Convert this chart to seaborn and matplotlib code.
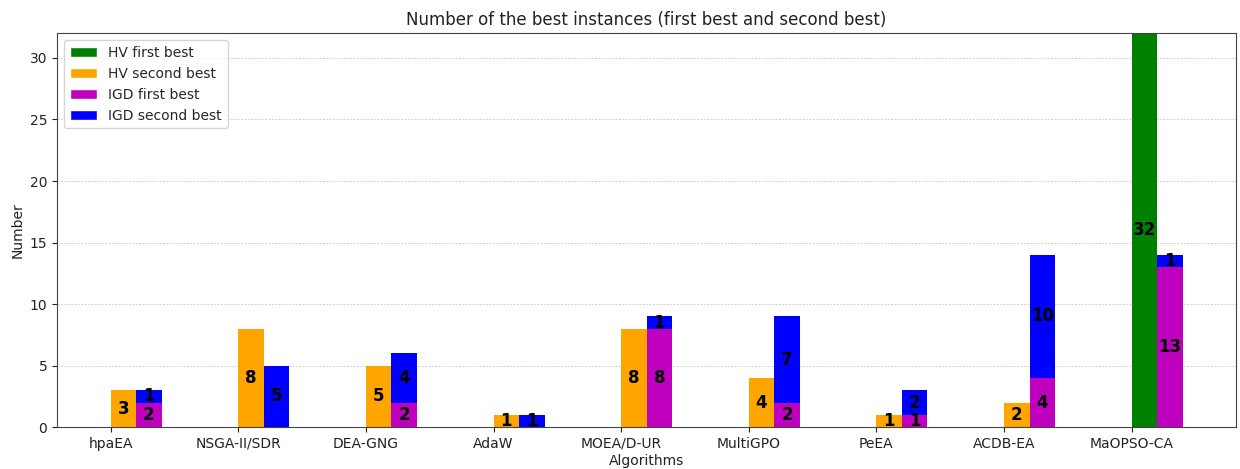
import numpy as np
import matplotlib
matplotlib.use("Agg")
import matplotlib.pyplot as plt
from matplotlib.patches import Patch
import seaborn as sns

algorithms = ["hpaEA", "NSGA-II/SDR", "DEA-GNG", "AdaW", "MOEA/D-UR",
              "MultiGPO", "PeEA", "ACDB-EA", "MaOPSO-CA"]
hv_first = [0, 0, 0, 0, 0, 0, 0, 0, 32]
hv_second = [3, 8, 5, 1, 8, 4, 1, 2, 0]
igd_first = [2, 0, 2, 0, 8, 2, 1, 4, 13]
igd_second = [1, 5, 4, 1, 1, 7, 2, 10, 1]

series_names = ["HV first best", "HV second best", "IGD first best", "IGD second best"]
series_colors = ["green", "orange", "m", "blue"]

sns.set_style("ticks")
plt.rcParams["font.family"] = ["DejaVu Sans"]

fig, ax = plt.subplots(figsize=(12.4, 4.69), dpi=100)
fig.subplots_adjust(left=0.046, right=0.997, top=0.929, bottom=0.089)

bar_w = 0.2
idx = np.arange(len(algorithms))
hv_x = idx + bar_w / 2
igd_x = idx + 1.5 * bar_w

hv_f = np.array(hv_first)
hv_s = np.array(hv_second)
igd_f = np.array(igd_first)
igd_s = np.array(igd_second)

common = dict(native_scale=True, width=bar_w, saturation=1, linewidth=0, ax=ax)

# Stacked bars: full height in the "second best" colour, "first best" drawn over the lower part
sns.barplot(x=hv_x, y=hv_f + hv_s, color=series_colors[1], **common)
sns.barplot(x=hv_x, y=hv_f, color=series_colors[0], **common)
sns.barplot(x=igd_x, y=igd_f + igd_s, color=series_colors[3], **common)
sns.barplot(x=igd_x, y=igd_f, color=series_colors[2], **common)

# Segment value labels, centred in each non-empty segment
def label_segments(xs, lower, upper):
    for x, lo, up in zip(xs, lower, upper):
        if lo > 0:
            ax.text(x, lo / 2, str(lo), ha="center", va="center",
                    fontsize=12, fontweight="bold", color="black")
        if up > 0:
            ax.text(x, lo + up / 2, str(up), ha="center", va="center",
                    fontsize=12, fontweight="bold", color="black")

label_segments(hv_x, hv_f, hv_s)
label_segments(igd_x, igd_f, igd_s)

ax.set_xlim(-0.42, len(algorithms) - 1 + 0.82)
ax.set_ylim(0, 32)
ax.set_xticks(idx)
ax.set_xticklabels(algorithms, fontsize=10)
ax.set_yticks([0, 5, 10, 15, 20, 25, 30])
ax.tick_params(axis="both", labelsize=10, colors="#222222")
for side in ["top", "right", "left", "bottom"]:
    ax.spines[side].set_visible(True)
    ax.spines[side].set_color("#444444")

ax.set_axisbelow(True)
ax.yaxis.grid(True, linestyle=(0, (2, 1.5)), color="#d0d0d0", linewidth=0.7)
ax.xaxis.grid(False)

ax.set_title("Number of the best instances (first best and second best)",
             fontsize=12, color="#222222")
ax.set_xlabel("Algorithms", fontsize=10, labelpad=2, color="#222222")
ax.set_ylabel("Number", fontsize=10, color="#222222")

handles = [Patch(facecolor=c, label=n) for n, c in zip(series_names, series_colors)]
ax.legend(handles=handles, loc="upper left", fontsize=10, frameon=True)

fig.savefig("out.png", dpi=100)
